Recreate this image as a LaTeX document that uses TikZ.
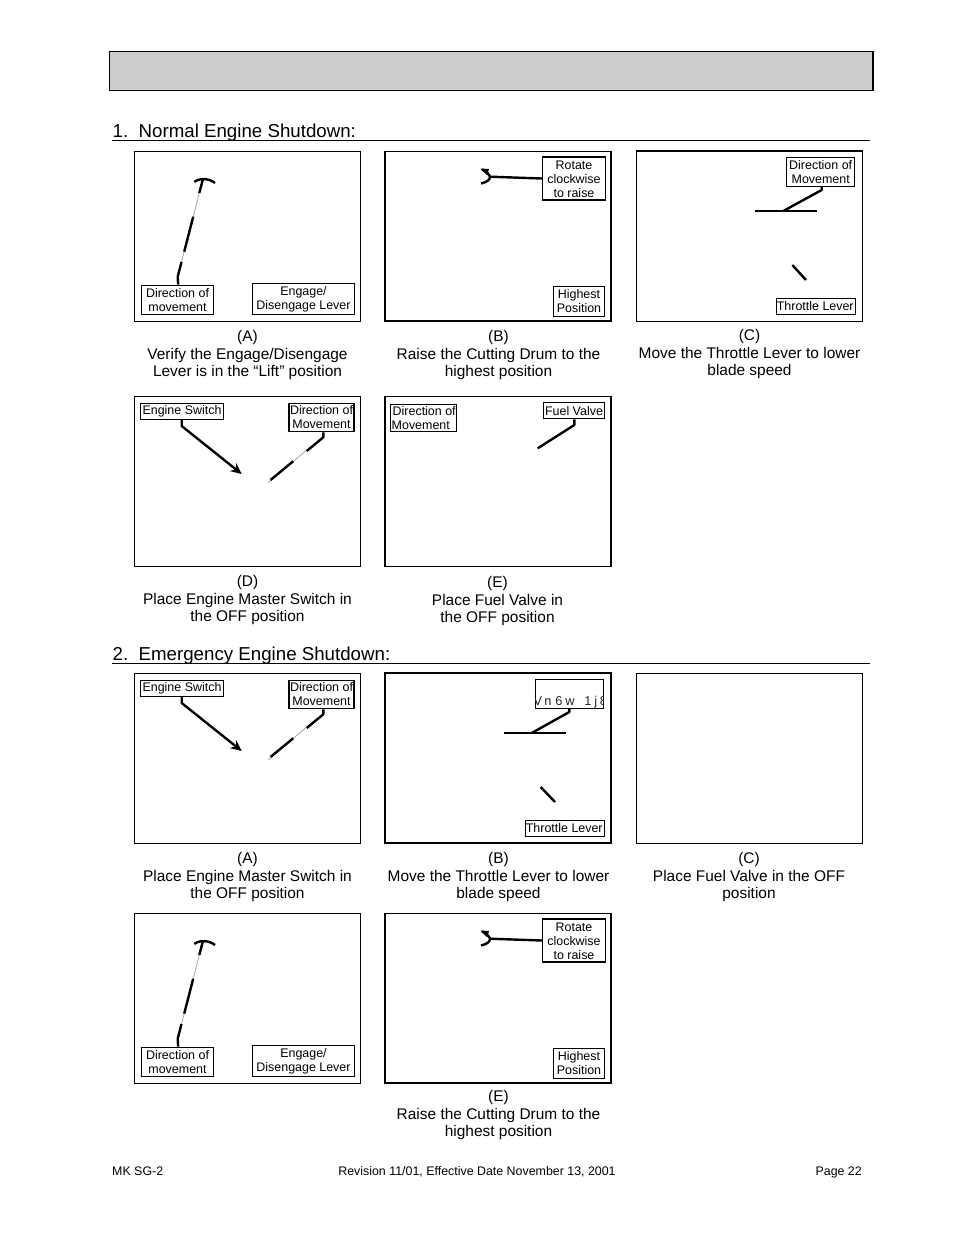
\documentclass[tikz,border=0pt]{standalone}
\usepackage{fontspec}
\setmainfont{Liberation Sans}
\usetikzlibrary{arrows.meta}
\tikzset{
  panel/.style={draw=black,line width=1pt,fill=white,inner sep=0pt},
  thickpanel/.style={panel,line width=1.9pt},
  lab/.style={draw=black,line width=0.9pt,fill=white,inner sep=0pt,align=center,font=\fontsize{12.45}{14}\selectfont},
  thicklab/.style={lab,line width=1.5pt},
  medlab/.style={lab,line width=1.2pt},
  captext/.style={anchor=north,inner sep=0pt,align=center,font=\fontsize{15.45}{17.6}\selectfont},
  headtext/.style={anchor=base west,inner sep=0pt,font=\fontsize{18.7}{20}\selectfont},
  foottext/.style={inner sep=0pt,anchor=base,font=\fontsize{12.4}{14}\selectfont},
  conn/.style={draw=black,line width=2.4pt,line join=round},
  faded/.style={draw=black!35,line width=0.8pt},
  rulel/.style={draw=black,line width=1pt}
}
% box from corner coordinates: style, name, x1, y1, x2, y2, text
\newcommand{\boxnode}[7]{\node[#1,minimum width={#5-#3},minimum height={#6-#4}] (#2) at ({(#3+#5)/2},{(#4+#6)/2}) {#7};}
\newcommand{\leverpanel}{%
  \boxnode{panel}{frame}{134.5}{151.5}{360.5}{321}{}
  \boxnode{lab}{dir}{141.7}{285}{213.3}{314.5}{Direction of\\movement}
  \boxnode{lab}{eng}{252.3}{283.5}{354.7}{314.5}{Engage/\\Disengage Lever}
  \coordinate (tip) at (202.7,180);
  \draw[faded] (tip) -- (177.7,276.7);
  \draw[conn] ([xshift=-35.6pt]dir.north east) -- (177.7,276.7) -- (181.5,262);
  \draw[conn] (184.2,251.7) -- (193.2,216.7);
  \draw[conn] (199.3,193) -- (tip);
  \draw[conn] (194.3,182) .. controls (199,178) and (209,178) .. (215,183);
}
\newcommand{\drumpanel}{%
  \boxnode{thickpanel}{frame}{385}{151.5}{611}{321}{}
  \boxnode{thicklab}{rot}{542.7}{157}{605.3}{200}{\rule{0pt}{11pt}Rotate\\clockwise\\to raise}
  \boxnode{lab}{high}{553.3}{286.5}{604.7}{316}{Highest\\Position}
  \coordinate (tip) at (490,176.7);
  \draw[conn] (rot.west) -- (tip);
  \draw[conn] (481,183.5) .. controls (487,182) and (490,180) .. (tip) .. controls (489,174) and (486,171) .. (482,169.5);
  \fill[black] (480.5,168.5) -- (489,169) -- (487,175) -- cycle;
}
\newcommand{\switchpanel}[1]{%
  \boxnode{panel}{frame}{134.5}{396}{360.5}{566}{}
  \boxnode{lab}{sw}{140.7}{403.3}{223.3}{419.3}{Engine Switch}
  \boxnode{#1}{dir}{289}{403.3}{354}{431.7}{Direction of\\Movement}
  \coordinate (tipa) at (241.7,474);
  \coordinate (tipb) at (268.3,482.7);
  \draw[conn,-{Stealth[length=11pt,width=10pt]}] ([xshift=-0.3pt]sw.south) -- (181.7,426) -- (tipa);
  \draw[faded] (306.7,450) -- (tipb);
  \draw[conn] ([xshift=1.8pt]dir.south) -- (323.3,437.3) -- (306.7,451);
  \draw[conn] (293.3,461.2) -- (270.5,480);
}
\begin{document}
\begin{tikzpicture}[x=1pt,y=-1pt]
\useasboundingbox (0,0) rectangle (954,1235);
\fill[white] (0,0) rectangle (954,1235);
% header bar
\boxnode{draw=black,line width=1pt,fill=black!20,inner sep=0pt}{bar}{109.5}{51.5}{872.5}{90.5}{}
\draw[line width=2pt] (bar.north east) -- (bar.south east);
% section 1
\node[headtext] (h1) at (112.5,137) {1.\ \ Normal Engine Shutdown:};
\coordinate (r1a) at (112,140.5); \coordinate (r1b) at (870,140.5);
\draw[rulel] (r1a) -- (r1b);
\begin{scope}[name prefix=a-]\leverpanel\end{scope}
\begin{scope}[name prefix=b-]\drumpanel\end{scope}
% panel C
\boxnode{panel}{c-frame}{636.5}{151.5}{862.5}{321}{}
\draw[line width=2pt] (c-frame.north west) -- (c-frame.north east);
\boxnode{lab}{c-dir}{786.7}{157.7}{854.7}{186.3}{Direction of\\Movement}
\boxnode{lab}{c-thr}{776.7}{298}{855.3}{314.5}{\hspace*{-1.5pt}Throttle Lever}
\coordinate (c-h1) at (755,211); \coordinate (c-h2) at (816.7,211);
\coordinate (c-m) at (783.3,211);
\draw[conn] (c-h1) -- (c-h2);
\draw[conn] ([xshift=1pt]c-dir.south) -- (821.7,190) -- (c-m);
\coordinate (c-s1) at (792.3,265); \coordinate (c-s2) at (806,280);
\draw[conn] (c-s1) -- (c-s2);
\node[captext] (capa) at (247.5,330) {(A)\\Verify the Engage/Disengage\\Lever is in the “Lift” position};
\node[captext] (capb) at (498.5,330) {(B)\\Raise the Cutting Drum to the\\highest position};
\node[captext] (capc) at (749.5,329.3) {(C)\\Move the Throttle Lever to lower\\blade speed};
\begin{scope}[name prefix=d-]\switchpanel{medlab}\end{scope}
% panel E
\boxnode{thickpanel}{e-frame}{385}{396.5}{611}{566.5}{}
\boxnode{lab,align=left}{e-dir}{390.7}{404}{456.7}{431.3}{\hspace*{1pt}Direction of\\Movement}
\boxnode{medlab}{e-fuel}{543.3}{402.7}{604.7}{418.7}{Fuel Valve}
\coordinate (e-end) at (537.7,448.3);
\draw[conn] ([xshift=0.3pt]e-fuel.south) -- (574.3,425) -- (e-end);
\node[captext] (capd) at (247.5,575.3) {(D)\\Place Engine Master Switch in\\the OFF position};
\node[captext] (cape) at (497.5,576) {(E)\\Place Fuel Valve in\\the OFF position};
% section 2
\node[headtext] (h2) at (112.5,660) {2.\ \ Emergency Engine Shutdown:};
\coordinate (r2a) at (112,663.5); \coordinate (r2b) at (870,663.5);
\draw[line width=0.7pt] (r2a) -- (r2b);
\begin{scope}[name prefix=f-,shift={(0,277)}]\switchpanel{medlab}\end{scope}
% panel B of section 2
\boxnode{thickpanel}{g-frame}{385}{673}{611}{843}{}
\boxnode{lab}{g-dir}{535.3}{679.7}{603.3}{708.7}{}
\begin{scope}
  \clip (535.3,679.7) rectangle (603.3,708.7);
  \node[anchor=base west,inner sep=0pt,font=\fontsize{12.8}{14}\selectfont,text=black!85] (g-txt) at (533.4,705.5) {V\hspace{2.3pt}n\hspace{3.8pt}6\hspace{2.8pt}w\hspace{9.75pt}1\hspace{2.9pt}j\hspace{2.66pt}8};
\end{scope}
\boxnode{lab}{g-thr}{525.3}{820.3}{604.7}{836.3}{\hspace*{-1.5pt}Throttle Lever}
\coordinate (g-h1) at (504,733); \coordinate (g-h2) at (565.7,733);
\coordinate (g-m) at (531.7,733);
\draw[conn] (g-h1) -- (g-h2);
\draw[conn] ([xshift=0pt]g-dir.south) -- (569.3,712) -- (g-m);
\coordinate (g-s1) at (540.7,787); \coordinate (g-s2) at (555,802);
\draw[conn] (g-s1) -- (g-s2);
% panel C of section 2
\boxnode{panel}{h-frame}{636.5}{673.5}{862.5}{843.5}{}
\node[captext] (capf) at (247.5,852.3) {(A)\\Place Engine Master Switch in\\the OFF position};
\node[captext] (capg) at (498.5,852.3) {(B)\\Move the Throttle Lever to lower\\blade speed};
\node[captext] (caph) at (749,852.3) {(C)\\Place Fuel Valve in the OFF\\position};
\begin{scope}[name prefix=i-,shift={(0,762)}]\leverpanel\end{scope}
\begin{scope}[name prefix=j-,shift={(0,762)}]\drumpanel\end{scope}
\node[captext] (capj) at (498.5,1090) {(E)\\Raise the Cutting Drum to the\\highest position};
% footer
\node[foottext,anchor=base west] (f1) at (112,1175.5) {MK SG-2};
\node[foottext] (f2) at (477,1175.5) {Revision 11/01, Effective Date November 13, 2001};
\node[foottext,anchor=base east] (f3) at (862,1175.5) {Page 22};
\end{tikzpicture}
\end{document}
